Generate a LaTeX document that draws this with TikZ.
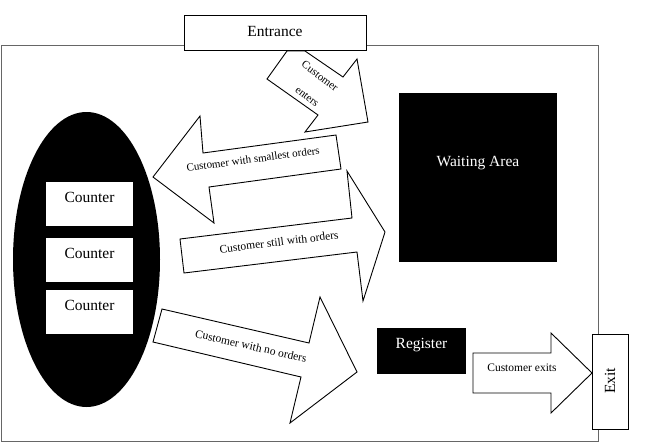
\documentclass[tikz,border=0pt]{standalone}
\usepackage{fontspec}
\setmainfont{Liberation Serif}
\begin{document}
\begin{tikzpicture}[x=1pt,y=-1pt,line width=0.9pt,
   bigtext/.style={font=\fontsize{15.5}{18}\selectfont,inner sep=0pt},
   flowtext/.style={font=\fontsize{11.5}{13}\selectfont,inner sep=0pt},
   blockarrow/.style={draw=black,fill=white,line join=miter},
   whitebox/.style={draw=black,fill=white}]
   \useasboundingbox (0,0) rectangle (659,445);

   % shop floor
   \draw[black!60] (1,45) rectangle (598,441);

   % counters
   \fill[black] (86.5,259.5) ellipse [x radius=73.5,y radius=147.5];
   \fill[white] (46,182) rectangle (133,226);
   \fill[white] (46,238) rectangle (133,282);
   \fill[white] (46,290) rectangle (133,334);
   \node[bigtext] (c1) at (89.5,197) {Counter};
   \node[bigtext] (c2) at (89.5,253) {Counter};
   \node[bigtext] (c3) at (89.5,305) {Counter};

   % waiting area and register
   \fill[black] (399,93) rectangle (557,262);
   \node[bigtext,text=white] (wait) at (478,163) {Waiting Area};
   \fill[black] (377,328) rectangle (466,374);
   \node[bigtext,text=white] (reg) at (421.5,345) {Register};

   % block arrows
   \draw[blockarrow] (305,51) -- (287,51) -- (267,79) -- (318,115) -- (305,132)
      -- (368,122) -- (357,59) -- (343,77) -- cycle;
   \node[flowtext,rotate=-37.5,font=\fontsize{11}{13}\selectfont] (enters1) at (320,76) {Customer};
   \node[flowtext,rotate=-37.5,font=\fontsize{11}{13}\selectfont] (enters2) at (307,97) {enters};

   \draw[blockarrow] (153,177) -- (200,116) -- (203,153) -- (336,135) -- (341,169)
      -- (209,187) -- (214,223) -- cycle;
   \node[flowtext,rotate=7.5,font=\fontsize{11}{13}\selectfont] (small) at (253,159) {Customer with smallest orders};

   \draw[blockarrow] (180,239) -- (352,218) -- (347,171) -- (385,232) -- (363,301)
      -- (357,252) -- (184,273) -- cycle;
   \node[flowtext,rotate=7] (still) at (279,242) {Customer still with orders};

   \draw[blockarrow] (162,309) -- (309,343) -- (320,297) -- (357,372) -- (290,423)
      -- (301,377) -- (153,342) -- cycle;
   \node[flowtext,rotate=-12.8] (none) at (251,346) {Customer with no orders};

   \draw[blockarrow] (473,353) -- (551,353) -- (551,333) -- (592,373) -- (551,413)
      -- (551,393) -- (473,393) -- cycle;
   \node[flowtext] (exits) at (522,368) {Customer exits};

   % doors
   \draw[whitebox] (184,15) rectangle (366,50);
   \node[bigtext] (entrance) at (275,31) {Entrance};
   \draw[whitebox] (592,334) rectangle (628,429);
   \node[bigtext,rotate=90] (exit) at (610,381) {Exit};
\end{tikzpicture}
\end{document}
